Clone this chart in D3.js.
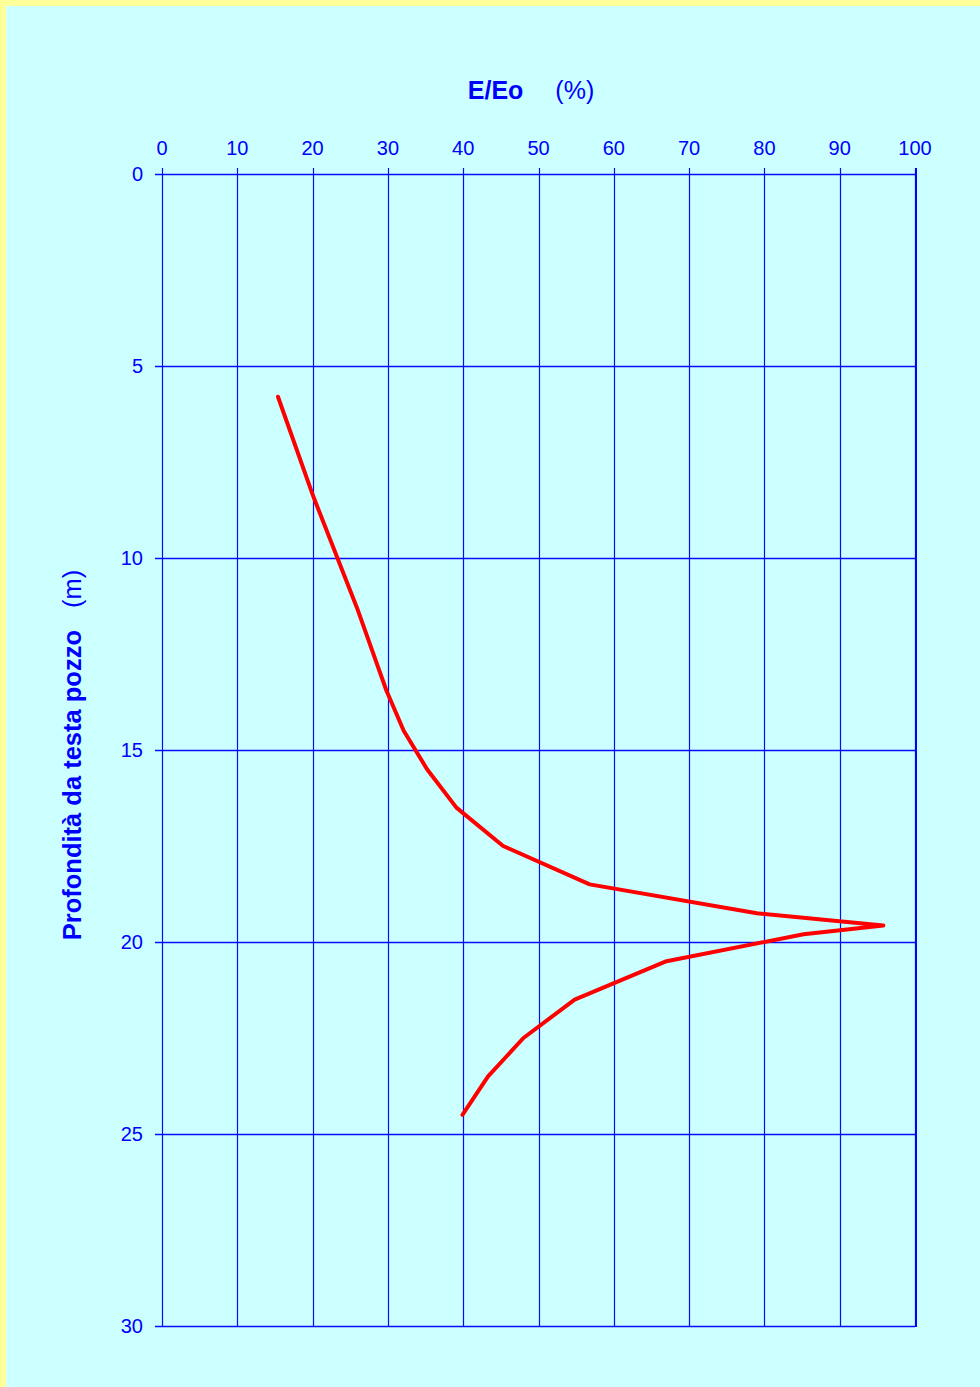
<!DOCTYPE html>
<html><head><meta charset="utf-8">
<script src="https://cdn.jsdelivr.net/npm/d3@7"></script>
<style>
html,body{margin:0;padding:0;background:#CCFFFF;}
svg{display:block;}
text{font-family:Arial,"Liberation Sans",Helvetica,sans-serif;}
</style></head>
<body>
<script>
// Data
const depth = [5.8, 8.4, 11.3, 13.45, 14.5, 15.5, 16.5, 17.5, 18.5, 19.25, 19.57, 19.8, 20.5, 21.5, 22.5, 23.5, 24.5];
const ratio = [15.4, 20.1, 25.9, 29.8, 32.1, 35.2, 39.1, 45.3, 56.8, 79.0, 95.8, 85.2, 67.0, 54.8, 48.0, 43.3, 39.9];
const xTicks = [0,10,20,30,40,50,60,70,80,90,100];
const yTicks = [0,5,10,15,20,25,30];
const xTitle = ["E/Eo", "(%)"];
const yTitle = ["Profondità da testa pozzo", "(m)"];

const W = 980, H = 1387;
const svg = d3.select("body").append("svg").attr("width", W).attr("height", H);
svg.append("rect").attr("width", W).attr("height", H).attr("fill", "#FFFF99");
svg.append("rect").attr("x", 6).attr("y", 6).attr("width", W-6).attr("height", H-6).attr("fill", "#CCFFFF");

const L = 162, R = 915, T = 174, B = 1326;
const x = d3.scaleLinear().domain([0,100]).range([L,R]);
const y = d3.scaleLinear().domain([0,30]).range([T,B]);
const blue = "#0000FF";
const grid = "#0A0AFF";

const g = svg.append("g");
g.selectAll("line.v").data(xTicks).join("line")
  .attr("x1", d => Math.round(x(d))+0.5).attr("x2", d => Math.round(x(d))+0.5)
  .attr("y1", T-6).attr("y2", B)
  .attr("stroke", grid).attr("stroke-width", 1.2);
g.selectAll("line.h").data(yTicks).join("line")
  .attr("x1", L-7).attr("x2", R)
  .attr("y1", d => y(d)+0.5).attr("y2", d => y(d)+0.5)
  .attr("stroke", grid).attr("stroke-width", 1.5);
g.append("line").attr("x1", R+1).attr("x2", R+1).attr("y1", T-6).attr("y2", B+1)
  .attr("stroke", blue).attr("stroke-width", 2);

g.selectAll("text.xt").data(xTicks).join("text")
  .attr("x", d => x(d)).attr("y", 155)
  .attr("text-anchor", "middle").attr("fill", blue).attr("font-size", 20)
  .text(d => d);
g.selectAll("text.yt").data(yTicks).join("text")
  .attr("x", 143).attr("y", d => y(d)+7)
  .attr("text-anchor", "end").attr("fill", blue).attr("font-size", 20)
  .text(d => d);

const xt = svg.append("text").attr("x", 531).attr("y", 99).attr("text-anchor", "middle")
  .attr("fill", blue).attr("font-size", 25);
xt.append("tspan").attr("font-weight", "bold").text(xTitle[0]);
xt.append("tspan").attr("dx", 32).text(xTitle[1]);

const yt = svg.append("text").attr("transform", "translate(81,755) rotate(-90)")
  .attr("text-anchor", "middle").attr("fill", blue).attr("font-size", 25.5);
yt.append("tspan").attr("font-weight", "bold").text(yTitle[0]);
yt.append("tspan").attr("dx", 22).text(yTitle[1]);

const pts = depth.map((d,i) => [ratio[i], d]);
svg.append("path").datum(pts)
  .attr("d", d3.line().x(d => x(d[0])).y(d => y(d[1])))
  .attr("fill", "none").attr("stroke", "#FF0000").attr("stroke-width", 4)
  .attr("stroke-linejoin", "round").attr("stroke-linecap", "round");
</script>
</body></html>
